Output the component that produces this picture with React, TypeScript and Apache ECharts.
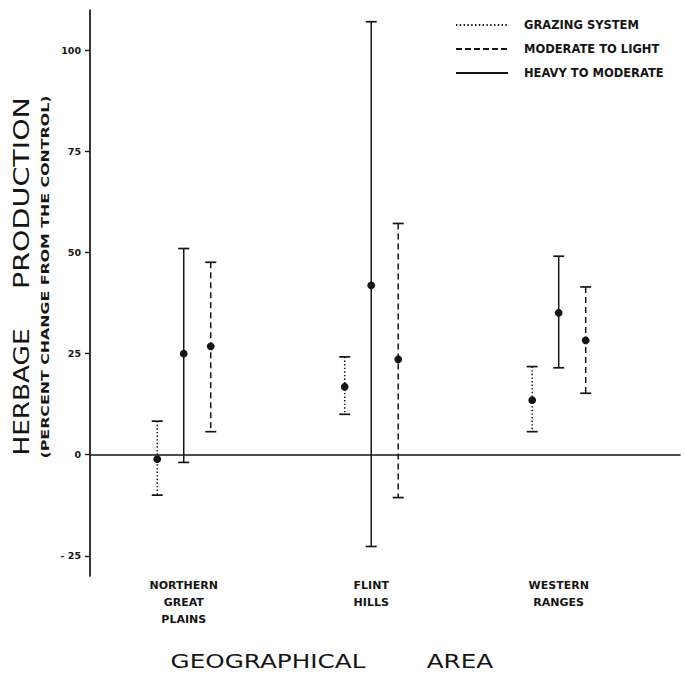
import React, { useEffect, useRef } from 'react';
import * as echarts from 'echarts';

// ---- data ----
const categories = ['NORTHERN\nGREAT\nPLAINS', 'FLINT\nHILLS', 'WESTERN\nRANGES'];
const categoryPositions = [0.5, 1.5, 2.5];
const yTicks = [-25, 0, 25, 50, 75, 100];
const seriesNames = ['GRAZING SYSTEM', 'MODERATE TO LIGHT', 'HEAVY TO MODERATE'];

const grazingMean = [-1.1, 16.8, 13.5];
const grazingLow = [-10.0, 10.0, 5.7];
const grazingHigh = [8.3, 24.2, 21.8];

const moderateMean = [26.8, 23.6, 28.3];
const moderateLow = [5.7, -10.6, 15.2];
const moderateHigh = [47.6, 57.2, 41.5];

const heavyMean = [25.0, 41.9, 35.1];
const heavyLow = [-1.9, -22.7, 21.5];
const heavyHigh = [51.0, 107.1, 49.1];

const INK = '#151515';
const FONT = 'DejaVu Sans';

const seriesDefs = [
  { name: seriesNames[0], mean: grazingMean, low: grazingLow, high: grazingHigh, dash: [1.4, 2.2] as number[] | null, legendDash: [1.4, 2.4] as any, dx: -26.5 },
  { name: seriesNames[1], mean: moderateMean, low: moderateLow, high: moderateHigh, dash: [6, 4] as number[] | null, legendDash: [6, 3] as any, dx: 27 },
  { name: seriesNames[2], mean: heavyMean, low: heavyLow, high: heavyHigh, dash: null as number[] | null, legendDash: 'solid' as any, dx: 0 },
];

export default function App() {
  const ref = useRef<HTMLDivElement>(null);

  useEffect(() => {
    if (!ref.current) return;
    const chart = echarts.init(ref.current, undefined, { renderer: 'svg' });

    const legendSeries = seriesDefs.map((s) => ({
      type: 'line',
      name: s.name,
      data: [],
      symbol: 'none',
      color: INK,
      lineStyle: { color: INK, width: 1.5, type: s.legendDash },
      silent: true,
    }));

    const barSeries = seriesDefs.map((s) => ({
      type: 'custom',
      name: s.name,
      xAxisIndex: 0,
      yAxisIndex: 0,
      color: INK,
      encode: { x: 0, y: [1, 2, 3] },
      data: categoryPositions.map((p, i) => [p, s.low[i], s.mean[i], s.high[i]]),
      renderItem: (params: any, api: any) => {
        const xv = api.value(0);
        const top = api.coord([xv, api.value(3)]);
        const mid = api.coord([xv, api.value(2)]);
        const bot = api.coord([xv, api.value(1)]);
        const cx = mid[0] + s.dx;
        const capW = 5.5;
        return {
          type: 'group',
          children: [
            {
              type: 'line',
              shape: { x1: cx, y1: top[1], x2: cx, y2: bot[1] },
              style: { stroke: INK, lineWidth: 1.5, lineDash: s.dash || undefined },
            },
            {
              type: 'line',
              shape: { x1: cx - capW, y1: top[1], x2: cx + capW, y2: top[1] },
              style: { stroke: INK, lineWidth: 1.7 },
            },
            {
              type: 'line',
              shape: { x1: cx - capW, y1: bot[1], x2: cx + capW, y2: bot[1] },
              style: { stroke: INK, lineWidth: 1.7 },
            },
            {
              type: 'circle',
              shape: { cx, cy: mid[1], r: 3.9 },
              style: { fill: INK },
            },
          ],
        };
      },
    }));

    const option: any = {
      animation: false,
      backgroundColor: '#ffffff',
      grid: { left: 90, right: 5, top: 10, bottom: 105, containLabel: false },
      legend: {
        orient: 'vertical',
        left: 455,
        top: 19,
        padding: 0,
        itemWidth: 52,
        itemHeight: 14,
        itemGap: 12,
        selectedMode: false,
        data: seriesNames,
        itemStyle: { color: 'rgba(0,0,0,0)', borderWidth: 0, opacity: 0 },
        textStyle: {
          fontFamily: FONT,
          fontWeight: 'bold',
          fontSize: 11.5,
          color: INK,
          padding: [0, 0, 0, 11],
        },
      },
      xAxis: [
        {
          type: 'value',
          min: 0,
          max: 3.147,
          axisLine: { show: true, onZero: true, lineStyle: { color: INK, width: 1.6 } },
          axisTick: { show: false },
          axisLabel: { show: false },
          splitLine: { show: false },
        },
        {
          type: 'value',
          min: 0,
          max: 3.147,
          position: 'bottom',
          axisLine: { show: false, onZero: false },
          axisTick: { show: false },
          splitLine: { show: false },
          axisLabel: {
            customValues: categoryPositions,
            formatter: (v: number) => {
              const idx = Math.round(v - 0.5);
              return categories[idx] ?? '';
            },
            margin: 1,
            fontFamily: FONT,
            fontWeight: 'bold',
            fontSize: 11,
            lineHeight: 17,
            color: INK,
          },
        },
      ],
      yAxis: {
        type: 'value',
        min: -30,
        max: 110,
        axisLine: { show: true, onZero: false, lineStyle: { color: INK, width: 1.7 } },
        axisTick: {
          show: true,
          customValues: yTicks,
          length: 5,
          inside: false,
          lineStyle: { color: INK, width: 1.4 },
        },
        axisLabel: {
          customValues: yTicks,
          formatter: (v: number) => (v < 0 ? '- ' + Math.abs(v) : String(v)),
          margin: 9,
          fontFamily: FONT,
          fontWeight: 'bold',
          fontSize: 9.5,
          color: INK,
        },
        splitLine: { show: false },
      },
      graphic: [
        {
          type: 'text',
          x: 22,
          y: 392,
          rotation: Math.PI / 2,
          scaleX: 1.25,
          style: { text: 'HERBAGE', fontFamily: FONT, fontSize: 21, fill: INK, align: 'center', verticalAlign: 'middle' },
        },
        {
          type: 'text',
          x: 22,
          y: 193,
          rotation: Math.PI / 2,
          scaleX: 1.36,
          style: { text: 'PRODUCTION', fontFamily: FONT, fontSize: 21, fill: INK, align: 'center', verticalAlign: 'middle' },
        },
        {
          type: 'text',
          x: 46,
          y: 277,
          rotation: Math.PI / 2,
          scaleX: 1.58,
          style: {
            text: '(PERCENT CHANGE FROM THE CONTROL)',
            fontFamily: FONT,
            fontWeight: 'bold',
            fontSize: 10,
            fill: INK,
            align: 'center',
            verticalAlign: 'middle',
          },
        },
        {
          type: 'text',
          x: 268,
          y: 662,
          scaleX: 1.3,
          style: { text: 'GEOGRAPHICAL', fontFamily: FONT, fontSize: 19, fill: INK, align: 'center', verticalAlign: 'middle' },
        },
        {
          type: 'text',
          x: 460,
          y: 662,
          scaleX: 1.3,
          style: { text: 'AREA', fontFamily: FONT, fontSize: 19, fill: INK, align: 'center', verticalAlign: 'middle' },
        },
      ],
      series: [...legendSeries, ...barSeries],
    };

    chart.setOption(option);
    return () => {
      chart.dispose();
    };
  }, []);

  return (
    <div
      ref={ref}
      style={{ position: 'fixed', left: 0, top: 0, width: 685, height: 681, background: '#fff' }}
    />
  );
}
